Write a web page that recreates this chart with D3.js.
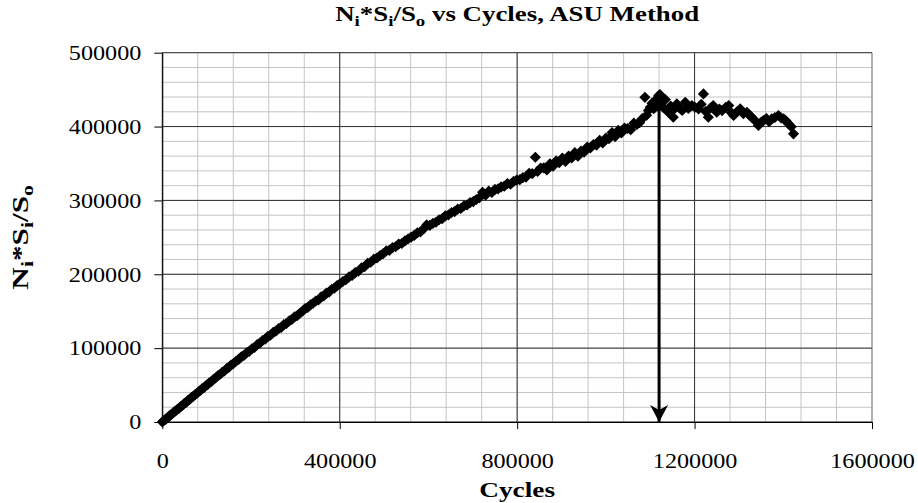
<!DOCTYPE html>
<html>
<head>
<meta charset="utf-8">
<script src="https://cdn.jsdelivr.net/npm/d3@7"></script>
<style>
  body { margin: 0; background: #fff; }
  text { font-family: "Liberation Serif", "Times New Roman", serif; fill: #000; }
</style>
</head>
<body>
<div id="container"></div>
<script>
// data: cycles and Ni*Si/So
const cycles = [
  0, 3000, 6000, 9000, 12000, 15000, 18000, 22000, 26000, 30000,
  34000, 38000, 42000, 46000, 50000, 54000, 58000, 62000, 66000, 70000,
  74000, 78000, 82000, 86000, 90000, 94000, 98000, 102000, 106000, 110000,
  115000, 120000, 125000, 130000, 135000, 140000, 145000, 150000, 155000, 160000,
  166000, 172000, 178000, 184000, 190000, 196000, 202000, 208000, 214000, 220000,
  226000, 232000, 238000, 244000, 250000, 256000, 262000, 268000, 274000, 280000,
  286000, 292000, 298000, 304000, 310000, 316000, 322000, 328000, 334000, 340000,
  346000, 352000, 358000, 364000, 370000, 376000, 382000, 388000, 394000, 400000,
  407000, 414000, 421000, 428000, 435000, 442000, 449000, 456000, 463000, 470000,
  477000, 484000, 491000, 498000, 505000, 512000, 519000, 526000, 533000, 540000,
  547000, 554000, 561000, 568000, 575000, 582000, 589000, 596000, 603000, 610000,
  617000, 624000, 631000, 638000, 645000, 652000, 659000, 666000, 673000, 680000,
  687000, 694000, 701000, 708000, 715000, 722000, 729000, 736000, 743000, 750000,
  757000, 764000, 771000, 778000, 785000, 792000, 799000, 806000, 813000, 820000,
  827000, 834000, 841000, 846000, 853000, 860000, 867000, 874000, 881000, 888000,
  895000, 902000, 909000, 916000, 923000, 930000, 937000, 944000, 951000, 958000,
  965000, 972000, 979000, 986000, 993000, 1000000, 1007000, 1014000, 1021000, 1028000,
  1035000, 1042000, 1049000, 1056000, 1063000, 1070000, 1076000, 1082000, 1088000, 1092000,
  1096000, 1100000, 1104000, 1108000, 1112000, 1116000, 1119000, 1122000, 1126000, 1130000,
  1134000, 1138000, 1141000, 1146000, 1152000, 1156000, 1160000, 1166000, 1172000, 1179000,
  1186000, 1194000, 1201000, 1209000, 1215000, 1220000, 1225000, 1231000, 1236000, 1242000,
  1250000, 1256000, 1262000, 1270000, 1277000, 1283000, 1288000, 1296000, 1303000, 1310000,
  1318000, 1324000, 1329000, 1336000, 1344000, 1350000, 1355000, 1362000, 1368000, 1374000,
  1381000, 1389000, 1395000, 1401000, 1406000, 1412000, 1418000, 1423000
];
const ratio = [
  0, 1800, 3100, 4300, 6200, 7400, 9300, 10800, 13400, 14900,
  17300, 18600, 21200, 22700, 25400, 26600, 29300, 30700, 33400, 34800,
  37100, 38600, 41300, 42700, 45200, 46300, 49100, 50600, 53200, 54500,
  57400, 59600, 62500, 64300, 67400, 69100, 72200, 74000, 77100, 78800,
  82300, 84700, 88200, 90100, 93600, 95700, 99200, 101100, 104700, 106800,
  110300, 112200, 115900, 117600, 121300, 123000, 126400, 128100, 131800, 133400,
  136900, 138700, 142300, 144000, 147300, 149900, 153500, 155100, 158600, 160800,
  163900, 165200, 169400, 170600, 174500, 175900, 179800, 181100, 184700, 186900,
  190200, 192600, 196400, 198500, 202300, 204100, 208600, 210200, 214800, 216300,
  220500, 222000, 225400, 227900, 231600, 232400, 236100, 237300, 240900, 241600,
  245200, 247800, 250300, 252600, 256200, 257500, 261300, 266800, 266300, 268900,
  270400, 273900, 275300, 279100, 280200, 283700, 284900, 288300, 289100, 292600,
  293800, 297100, 298400, 301200, 303600, 310900, 307200, 312500, 310800, 314900,
  315600, 318300, 319200, 322800, 321900, 325700, 327400, 328100, 330900, 331600,
  336800, 336200, 358500, 339300, 343900, 344100, 341200, 349600, 346300, 353500,
  351200, 357400, 352800, 360100, 357600, 364700, 359900, 366800, 365300, 372200,
  371100, 375600, 374900, 381400, 377700, 384300, 383600, 391900, 386400, 394800,
  391300, 398100, 397400, 395800, 404600, 402900, 405200, 410700, 439600, 415300,
  421800, 426200, 431500, 424100, 435900, 428300, 441800, 443200, 432600, 425400,
  436700, 421700, 419300, 427900, 412600, 424800, 430700, 425300, 421900, 432800,
  424600, 428400, 426100, 423900, 430200, 444200, 420400, 412600, 425100, 428400,
  419300, 423700, 421600, 425900, 428400, 418600, 414900, 420200, 423900, 417300,
  419300, 415200, 412600, 408300, 401400, 405800, 408100, 410900, 406700, 410400,
  412200, 414900, 411800, 410400, 407900, 403600, 399700, 390100
];
const xTicks = [0, 400000, 800000, 1200000, 1600000];
const yTicks = [0, 100000, 200000, 300000, 400000, 500000];
const xMinorStep = 80000, yMinorStep = 20000;
const arrowCycle = 1120000, arrowTop = 425000;

const points = cycles.map((c, i) => ({c: c, v: ratio[i]}));

// set the dimensions and margins of the graph
const margin = {top: 52.7, right: 46, bottom: 81, left: 162.3},
  width = 918 - margin.left - margin.right,
  height = 503 - margin.top - margin.bottom;

const svg = d3.select("#container")
.append("svg")
  .attr("width", width + margin.left + margin.right)
  .attr("height", height + margin.top + margin.bottom)
.append("g")
  .attr("transform", `translate(${margin.left},${margin.top})`);

const x = d3.scaleLinear().domain([0, 1600000]).range([0, width]);
const y = d3.scaleLinear().domain([0, 500000]).range([height, 0]);

// minor gridlines
svg.append("g")
  .selectAll("line")
  .data(d3.range(0, 1600000 + 1, xMinorStep))
  .join("line")
    .attr("x1", d => x(d)).attr("x2", d => x(d))
    .attr("y1", 0).attr("y2", height)
    .style("stroke", "#c4c4c4");
svg.append("g")
  .selectAll("line")
  .data(d3.range(0, 500000 + 1, yMinorStep))
  .join("line")
    .attr("x1", 0).attr("x2", width)
    .attr("y1", d => y(d)).attr("y2", d => y(d))
    .style("stroke", "#c4c4c4");

// major gridlines
svg.append("g")
  .selectAll("line")
  .data(xTicks)
  .join("line")
    .attr("x1", d => x(d)).attr("x2", d => x(d))
    .attr("y1", 0).attr("y2", height)
    .style("stroke", d => d === 1600000 ? "#808080" : "#303030");
svg.append("g")
  .selectAll("line")
  .data(yTicks)
  .join("line")
    .attr("x1", 0).attr("x2", width)
    .attr("y1", d => y(d)).attr("y2", d => y(d))
    .style("stroke", "#303030");

// axes
const stretch = function(k) {
  return sel => sel.selectAll("text")
    .attr("textLength", function() { return this.getComputedTextLength() * k; })
    .attr("lengthAdjust", "spacingAndGlyphs");
};

svg.append("g")
  .call(d3.axisLeft(y).tickValues(yTicks).tickSize(8).tickSizeOuter(0)
    .tickPadding(13).tickFormat(d3.format("d")))
  .call(g => g.selectAll("text").style("font-size", "21px").style("font-family", null))
  .call(g => g.selectAll("line, path").style("stroke", "#000"))
  .call(stretch(1.15));

svg.append("g")
  .attr("transform", `translate(0,${height})`)
  .call(d3.axisBottom(x).tickValues(xTicks).tickSize(7).tickSizeOuter(0)
    .tickPadding(24).tickFormat(d3.format("d")))
  .call(g => g.selectAll("text").style("font-size", "21px").style("font-family", null))
  .call(g => g.selectAll("line, path").style("stroke", "#000"))
  .call(stretch(1.15));

// the points
svg.append("g")
  .selectAll("path")
  .data(points)
  .join("path")
    .attr("d", d3.symbol().type(d3.symbolSquare).size(62))
    .attr("transform", d => `translate(${x(d.c)},${y(d.v)}) rotate(45)`)
    .style("fill", "#000");

// arrow marking the peak
const defs = svg.append("defs");
defs.append("marker")
  .attr("id", "arrowhead")
  .attr("markerUnits", "userSpaceOnUse")
  .attr("viewBox", "0 -10 18 20")
  .attr("markerWidth", 18).attr("markerHeight", 20)
  .attr("refX", 17).attr("refY", 0)
  .attr("orient", "auto")
.append("path")
  .attr("d", "M0,-9L17,0L0,9L5,0Z")
  .style("fill", "#000");

svg.append("line")
  .attr("x1", x(arrowCycle)).attr("x2", x(arrowCycle))
  .attr("y1", y(arrowTop)).attr("y2", y(0))
  .style("stroke", "#000")
  .style("stroke-width", 3)
  .attr("marker-end", "url(#arrowhead)");

// titles with subscripts
const subLabel = (text, size) => {
  const parts = [["N", false], ["i", true], ["*S", false], ["i", true], ["/S", false], ["o", true]];
  const shift = size * 0.22;
  let low = false;
  parts.forEach(([s, sub]) => {
    const dy = sub === low ? 0 : (sub ? shift : -shift);
    low = sub;
    text.append("tspan")
      .style("font-size", sub ? (size * 0.7) + "px" : size + "px")
      .attr("dy", dy)
      .text(s);
  });
  return low ? -shift : 0;
};

const title = svg.append("g")
  .attr("transform", `translate(${width / 2},-31.5) scale(1.28,1)`)
  .append("text")
    .attr("text-anchor", "middle")
    .style("font-weight", "bold")
    .style("font-size", "21px");
const back = subLabel(title, 21);
title.append("tspan").attr("dy", back).text(" vs Cycles, ASU Method");

svg.append("g")
  .attr("transform", `translate(${width / 2},${height + 75}) scale(1.3,1)`)
  .append("text")
    .attr("text-anchor", "middle")
    .style("font-weight", "bold")
    .style("font-size", "21px")
    .text("Cycles");

const yTitle = svg.append("g")
  .attr("transform", `translate(${28 - margin.left},${height / 2}) rotate(-90) scale(1.3,1)`)
  .append("text")
    .attr("text-anchor", "middle")
    .style("font-weight", "bold")
    .style("font-size", "24px");
subLabel(yTitle, 24);
</script>
</body>
</html>
